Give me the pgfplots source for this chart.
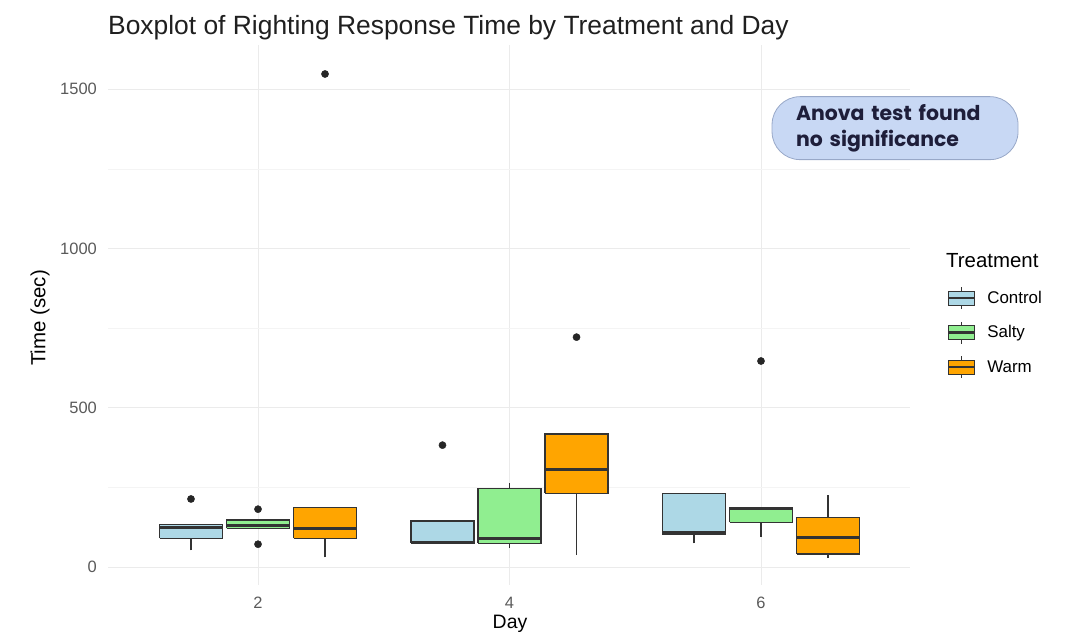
\documentclass[border=0pt]{standalone}
\usepackage{fontspec}
\setmainfont{Liberation Sans}
\newfontfamily\popfont{Poppins}
\usepackage{pgfplots}
\pgfplotsset{compat=1.18}
\definecolor{ctrl}{HTML}{ADD8E6}
\definecolor{salty}{HTML}{90EE90}
\definecolor{warm}{HTML}{FFA500}
\definecolor{outl}{HTML}{333333}
\definecolor{tickgray}{HTML}{5A5A5A}
\definecolor{gridmaj}{HTML}{EBEBEB}
\definecolor{gridmin}{HTML}{F4F4F4}
\definecolor{labfill}{HTML}{C8D8F4}
\definecolor{labdraw}{HTML}{98A8C8}
\definecolor{labtext}{HTML}{1E1E3A}
\pgfplotsset{
  boxleg/.style={legend image code/.code={
    \draw[##1,line width=1bp] (0bp,-7bp) rectangle (26bp,7bp);
    \draw[##1,line width=2.2bp] (0bp,0bp) -- (26bp,0bp);
    \draw[##1,line width=1bp] (13bp,7bp) -- (13bp,11bp) (13bp,-7bp) -- (13bp,-11bp);
  }},
  wh/.style={forget plot, draw=outl, line width=1.1bp, mark=none},
  bx/.style={forget plot, draw=outl, line width=1.2bp, mark=none, line join=miter},
  md/.style={forget plot, draw=outl, line width=3bp, mark=none}
}
\begin{document}
\begin{tikzpicture}
\path[use as bounding box] (0bp,0bp) rectangle (1065bp,634bp);
\begin{axis}[
  at={(108bp,49bp)}, anchor=south west,
  scale only axis, width=802bp, height=540bp,
  xmin=0.807, xmax=7.185, ymin=-56, ymax=1639,
  xtick={2,4,6}, xticklabels={2,4,6},
  ytick={0,500,1000,1500}, yticklabels={0,500,1000,1500},
  minor ytick={250,750,1250},
  xmajorgrids, ymajorgrids, yminorgrids,
  major grid style={draw=gridmaj, line width=1bp},
  minor grid style={draw=gridmin, line width=0.8bp},
  axis line style={draw=none}, major tick length=0pt, minor tick length=0pt,
  tick style={draw=none},
  yticklabel style={font=\fontsize{16.5}{19}\selectfont, color=tickgray, anchor=east, inner sep=0pt, xshift=-11bp},
  xticklabel style={font=\fontsize{16.5}{19}\selectfont, color=tickgray, anchor=north, inner sep=0pt, yshift=-12bp},
  clip=false,
  legend style={at={(axis description cs:1.046,0.553)}, anchor=north west, draw=none, fill=none,
    font=\fontsize{17}{19}\selectfont, row sep=11.5bp, column sep=10bp, inner sep=0pt},
  legend cell align=left,
]
\addlegendimage{boxleg, fill=ctrl, draw=outl}
\addlegendentry{Control}
\addlegendimage{boxleg, fill=salty, draw=outl}
\addlegendentry{Salty}
\addlegendimage{boxleg, fill=warm, draw=outl}
\addlegendentry{Warm}
% ---- whiskers
\addplot[wh] coordinates {(1.467,53) (1.467,91)};
\addplot[wh] coordinates {(2.533,31) (2.533,91)};
\addplot[wh] coordinates {(4,60) (4,75)};
\addplot[wh] coordinates {(4,248) (4,264)};
\addplot[wh] coordinates {(4.533,38) (4.533,232)};
\addplot[wh] coordinates {(5.467,75) (5.467,102)};
\addplot[wh] coordinates {(6,94) (6,141)};
\addplot[wh] coordinates {(6.533,28) (6.533,41)};
\addplot[wh] coordinates {(6.533,157) (6.533,226)};
% ---- boxes (Q1 to Q3)
\addplot[bx, fill=ctrl]  coordinates {(1.217,91) (1.717,91) (1.717,135) (1.217,135) (1.217,91)};
\addplot[bx, fill=salty] coordinates {(1.75,122) (2.25,122) (2.25,148) (1.75,148) (1.75,122)};
\addplot[bx, fill=warm]  coordinates {(2.283,91) (2.783,91) (2.783,188) (2.283,188) (2.283,91)};
\addplot[bx, fill=ctrl]  coordinates {(3.217,75) (3.717,75) (3.717,145) (3.217,145) (3.217,75)};
\addplot[bx, fill=salty] coordinates {(3.75,75) (4.25,75) (4.25,248) (3.75,248) (3.75,75)};
\addplot[bx, fill=warm]  coordinates {(4.283,232) (4.783,232) (4.783,418) (4.283,418) (4.283,232)};
\addplot[bx, fill=ctrl]  coordinates {(5.217,102) (5.717,102) (5.717,232) (5.217,232) (5.217,102)};
\addplot[bx, fill=salty] coordinates {(5.75,141) (6.25,141) (6.25,188) (5.75,188) (5.75,141)};
\addplot[bx, fill=warm]  coordinates {(6.283,41) (6.783,41) (6.783,157) (6.283,157) (6.283,41)};
% ---- medians
\addplot[md] coordinates {(1.217,126) (1.717,126)};
\addplot[md] coordinates {(1.75,130) (2.25,130)};
\addplot[md] coordinates {(2.283,122) (2.783,122)};
\addplot[md] coordinates {(3.217,78) (3.717,78)};
\addplot[md] coordinates {(3.75,89) (4.25,89)};
\addplot[md] coordinates {(4.283,305) (4.783,305)};
\addplot[md] coordinates {(5.217,108) (5.717,108)};
\addplot[md] coordinates {(5.75,185) (6.25,185)};
\addplot[md] coordinates {(6.283,94) (6.783,94)};
% ---- outliers
\addplot[forget plot, only marks, mark=*, mark size=3.6bp, mark options={fill=black!85, draw=black!85}]
  coordinates {(1.467,214) (2,182) (2,72) (2.533,1548) (3.467,383) (4.533,722) (6,647)};
\node[fill=labfill, draw=labdraw, line width=0.8bp, rounded corners=28bp,
  minimum width=246bp, minimum height=63bp, text width=198bp, align=left,
  inner sep=0pt, text=labtext, font=\popfont\bfseries\fontsize{20.5}{26}\selectfont]
  at (axis cs:7.066,1378) {Anova test found\\no significance};
\end{axis}
\node[anchor=west, inner sep=0pt, text=black!88, font=\fontsize{26.5}{30}\selectfont] at (108bp,606bp) {Boxplot of Righting Response Time by Treatment and Day};
\node[rotate=90, inner sep=0pt, font=\fontsize{20.5}{23}\selectfont] at (40bp,316bp) {Time (sec)};
\node[inner sep=0pt, font=\fontsize{19.5}{22}\selectfont] at (510bp,10bp) {Day};
\node[anchor=west, inner sep=0pt, font=\fontsize{20.5}{23}\selectfont] at (946bp,373bp) {Treatment};
\end{tikzpicture}
\end{document}
